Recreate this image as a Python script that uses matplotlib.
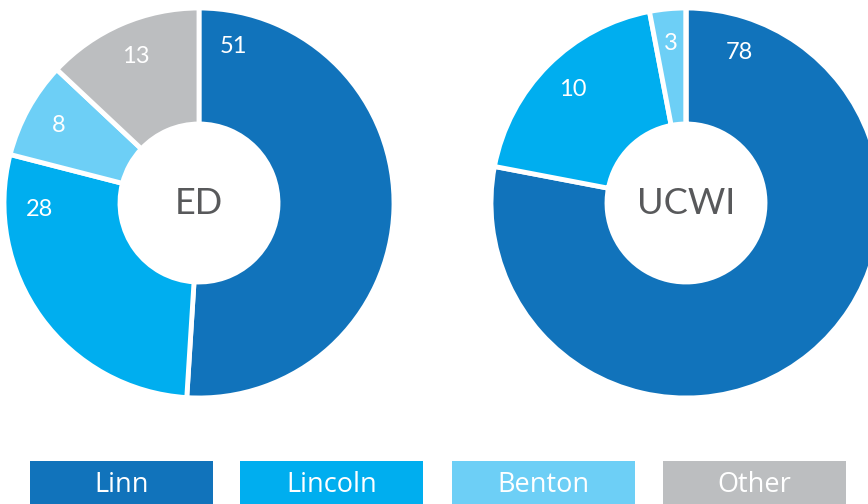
import matplotlib.pyplot as plt
from matplotlib.patches import Rectangle
import numpy as np

# data
categories = ['Linn', 'Lincoln', 'Benton', 'Other']
ed_values = [51, 28, 8, 13]
ed_labels = ['51', '28', '8', '13']
# wedge shares (printed label for Lincoln is "10")
ucwi_values = [78, 19, 3, 0]
ucwi_labels = ['78', '10', '3', '']

colors = ['#1173BB', '#00AEEF', '#6DCFF6', '#BCBEC0']

W, H = 868, 504
fig = plt.figure(figsize=(W / 100, H / 100), dpi=100)
ax = fig.add_axes([0, 0, 1, 1])
ax.set_xlim(0, W)
ax.set_ylim(H, 0)
ax.set_aspect('equal')
ax.axis('off')

R_OUT, R_IN = 195, 79
LABEL_R = 160


def donut(cx, cy, values, labels, title, label_angles):
    # clockwise from 12 o'clock; y axis is inverted so counterclock=True looks clockwise
    ax.pie(values, colors=colors, center=(cx, cy), radius=R_OUT,
           startangle=-90, counterclock=True,
           wedgeprops=dict(width=R_OUT - R_IN, edgecolor='white', linewidth=3.5),
           frame=True)
    total = sum(values)
    start = 0
    for v, lab, ang in zip(values, labels, label_angles):
        mid = start + v / total * 360 / 2
        a = mid if ang is None else ang
        start += v / total * 360
        if not lab:
            continue
        t = np.deg2rad(a)
        ax.text(cx + LABEL_R * np.sin(t), cy - LABEL_R * np.cos(t), lab,
                ha='center', va='center', color='white', fontsize=17, family='Lato')
    ax.text(cx, cy, title, ha='center', va='center', color='#58595B',
            fontsize=26, family='Lato')


donut(199, 203, ed_values, ed_labels, 'ED', [12.5, 267.5, None, None])
donut(686, 203, ucwi_values, ucwi_labels, 'UCWI', [19.5, None, None, None])

ax.set_xlim(0, W)
ax.set_ylim(H, 0)
ax.axis('off')

# legend boxes
box_x = [30, 240, 452, 663]
box_w = 183
for x, c, name in zip(box_x, colors, categories):
    ax.add_patch(Rectangle((x, 461), box_w, 60, facecolor=c, edgecolor='none', clip_on=False))
    ax.text(x + box_w / 2, 485, name, ha='center', va='center', color='white',
            fontsize=19.5, family='Open Sans')

fig.savefig('out.png', dpi=100)
